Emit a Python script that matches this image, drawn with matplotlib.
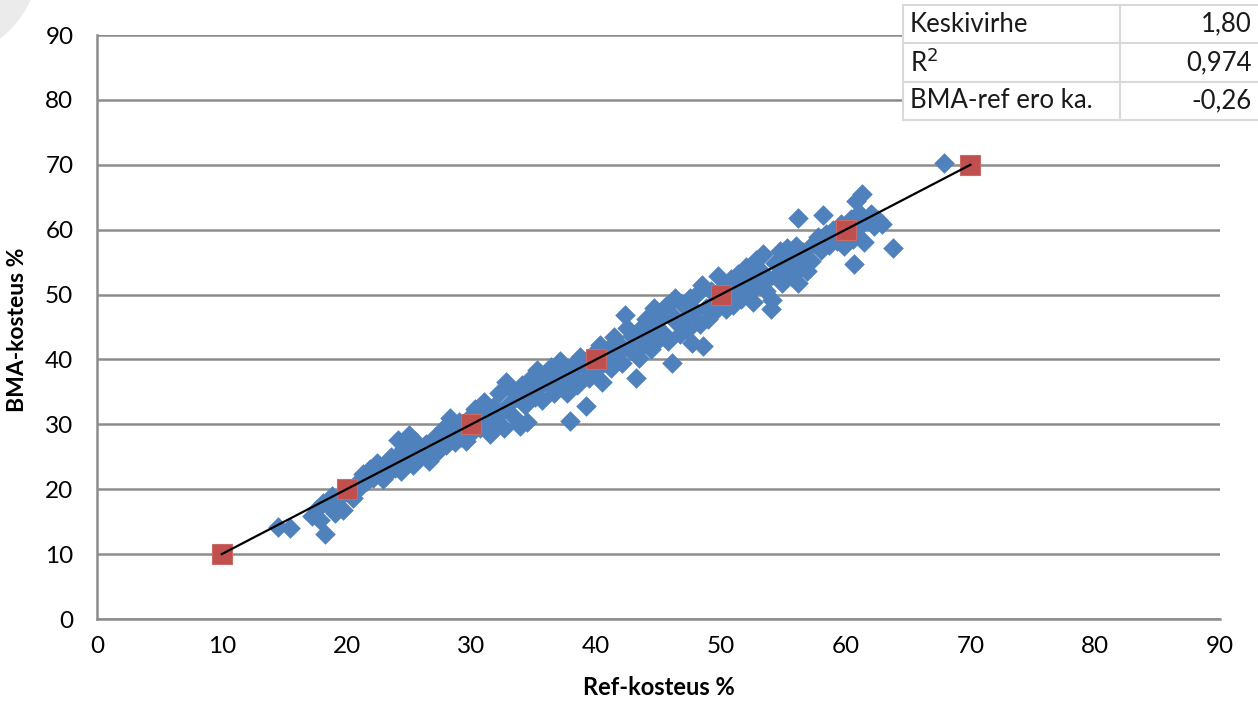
import matplotlib
matplotlib.use("Agg")
import matplotlib.pyplot as plt
from matplotlib.patches import Rectangle, Circle
from matplotlib.lines import Line2D

plt.rcParams['font.family'] = ['Lato', 'DejaVu Sans']

# measured points (Ref %, BMA %)
ref = [14.5, 15.5, 17.2, 17.6, 17.9, 18.3, 18.5, 18.8, 19.1, 19.4, 19.7, 19.9, 18.1, 19.3,
       20.2, 20.5, 20.8, 21.0, 21.3, 21.6, 21.9, 22.1, 22.4, 22.6, 22.9, 23.1, 23.4, 23.6,
       23.9, 24.1, 24.2, 24.4, 24.6, 24.8, 25.0, 25.1, 25.3, 25.5, 25.7, 25.9,
       26.2, 26.4, 26.6, 26.9, 27.1, 27.3, 27.6, 27.8, 28.0, 28.3, 28.5, 28.7, 29.0, 29.2,
       29.4, 29.6, 29.9, 30.1, 30.3,
       30.5, 30.7, 31.0, 31.2, 31.5, 31.7, 31.9, 32.2, 32.4, 32.6, 32.8, 33.0, 33.2, 33.4,
       33.7, 33.9, 34.1, 34.3, 34.5, 34.7, 34.9, 35.1,
       35.3, 35.5, 35.7, 35.9, 36.2, 36.4, 36.6, 36.8, 37.1, 37.3, 37.5, 37.7, 37.9, 38.1,
       38.3, 38.5, 38.7, 38.9, 39.2, 39.4, 39.6, 39.8, 40.0,
       40.3, 40.5, 40.7, 40.9, 41.2, 41.4, 41.6, 41.8, 42.1, 42.3, 42.5, 42.7, 42.9, 43.2,
       43.4, 43.6, 43.8, 44.0, 44.2, 44.4, 44.6, 44.8, 45.0,
       45.2, 45.4, 45.6, 45.8, 46.0, 46.1, 46.3, 46.5, 46.7, 46.9, 47.1, 47.3, 47.5, 47.7,
       47.9, 48.1, 48.3, 48.5, 48.6, 48.8, 49.0, 49.2, 49.4, 49.6, 49.8, 50.0,
       50.2, 50.4, 50.6, 50.8, 51.0, 51.2, 51.4, 51.6, 51.8, 52.0, 52.2, 52.4, 52.6, 52.8,
       53.0, 53.2, 53.4, 53.6, 53.8, 54.0, 54.1, 54.3, 54.5, 54.7, 54.9,
       55.1, 55.3, 55.6, 55.8, 56.0, 56.2, 56.2, 56.4, 56.6, 56.9, 57.2, 57.5, 57.8, 58.0,
       58.2, 58.4, 58.7, 59.0, 59.3, 59.6, 59.9,
       60.2, 60.4, 60.6, 60.7, 60.8, 61.0, 61.1, 61.3, 61.5, 61.7, 62.0, 62.3, 62.6, 62.9,
       63.8, 67.9]
bma = [14.2, 14.0, 15.8, 16.9, 15.2, 13.1, 17.6, 18.9, 16.4, 17.3, 16.8, 19.6, 17.9, 18.5,
       19.8, 18.6, 21.0, 20.2, 22.4, 21.2, 23.1, 21.7, 24.0, 22.3, 21.5, 23.8, 22.6, 24.9,
       23.2, 27.6, 25.4, 22.8, 26.3, 24.1, 28.3, 25.6, 23.7, 27.4, 24.8, 26.1,
       25.3, 27.0, 24.4, 26.6, 28.1, 25.9, 27.5, 29.4, 26.8, 31.0, 28.6, 27.3, 30.3, 28.1,
       29.7, 27.4, 31.2, 29.0, 32.4,
       30.6, 29.4, 33.5, 31.4, 28.5, 32.6, 30.1, 34.8, 31.9, 29.4, 36.6, 33.2, 35.4, 31.1,
       34.1, 29.8, 36.0, 33.0, 30.4, 35.2, 37.3, 34.2,
       38.4, 35.9, 33.8, 37.0, 36.0, 38.9, 34.9, 37.6, 39.7, 36.3, 38.2, 34.8, 30.5, 37.4,
       39.4, 36.0, 40.3, 38.3, 32.9, 37.1, 39.9, 41.0, 38.4,
       42.2, 36.6, 39.6, 41.4, 38.7, 43.5, 40.6, 42.4, 39.5, 46.8, 44.8, 41.5, 43.6, 37.1,
       40.2, 44.9, 42.4, 46.3, 43.4, 41.6, 47.9, 45.1, 43.2,
       46.6, 44.1, 48.3, 42.8, 47.0, 39.5, 49.5, 45.6, 43.9, 48.6, 46.2, 44.5, 49.4, 42.6,
       47.4, 50.1, 45.5, 51.4, 42.1, 48.0, 46.3, 50.6, 47.2, 49.0, 52.9, 48.6,
       51.2, 47.8, 49.8, 52.4, 48.4, 50.7, 53.1, 49.3, 51.8, 54.3, 50.1, 52.7, 48.9, 55.4,
       51.5, 53.6, 56.2, 50.6, 52.4, 47.7, 49.2, 54.8, 53.0, 56.7, 51.8,
       54.6, 57.2, 52.9, 55.8, 57.5, 61.8, 51.8, 54.2, 56.5, 53.7, 55.1, 57.9, 58.8, 56.9,
       62.3, 59.4, 57.7, 59.9, 58.2, 60.8, 57.5,
       59.2, 61.7, 58.6, 54.7, 64.4, 60.3, 62.6, 65.5, 58.1, 61.4, 62.4, 60.6, 61.5, 60.9,
       57.2, 70.2]

# reference line points
line_x = [10, 20, 30, 40, 50, 60, 70]
line_y = [10, 20, 30, 40, 50, 60, 70]

stat_names = ['Keskivirhe', 'R$^2$', 'BMA-ref ero ka.']
stat_values = ['1,80', '0,974', '-0,26']

W, H = 1258, 705
fig = plt.figure(figsize=(W / 100, H / 100), dpi=100)
ax = fig.add_axes([97 / W, 1 - 619 / H, (1220 - 97) / W, (619 - 35) / H])

blue = '#4f81bd'
red = '#c0504d'
grid_c = '#8c8c8c'

ax.scatter(ref, bma, marker='D', s=110, color=blue, linewidths=0, zorder=3)
ax.plot(line_x, line_y, 's', ms=14.5, color=red, mec='#c96a67', mew=0.8, zorder=4)
ax.plot(line_x, line_y, '-', color='black', lw=1.6, zorder=5)

ax.set_xlim(0, 90)
ax.set_ylim(0, 90)
ax.set_xticks(range(0, 91, 10))
ax.set_yticks(range(0, 91, 10))
ax.yaxis.grid(True, color=grid_c, lw=1.8)
ax.set_axisbelow(True)
for s in ['top', 'right']:
    ax.spines[s].set_visible(False)
for s in ['left', 'bottom']:
    ax.spines[s].set_color(grid_c)
    ax.spines[s].set_linewidth(1.8)
ax.tick_params(length=0, labelsize=17.5, pad=12, colors='black')
ax.tick_params(axis='y', pad=17)
ax.set_xlabel('Ref-kosteus %', fontsize=17, fontweight='bold', labelpad=14)
ax.set_ylabel('BMA-kosteus %', fontsize=16.5, fontweight='bold')
ax.yaxis.set_label_coords(-0.061, 0.495)

# faint grey arc in top-left corner
fig.patches.append(Circle((-60, H + 40), 99, transform=None, facecolor='#ebebeb',
                          edgecolor='none', zorder=0))

# stats table (pixel coordinates)
rows_y = [5, 43, 82, 120]
x0, xm, x1 = 903, 1120, 1262
tab_c = '#d9d9d9'
fig.patches.append(Rectangle((x0, H - rows_y[-1]), x1 - x0, rows_y[-1] - rows_y[0],
                             transform=None, facecolor='white', edgecolor='none', zorder=6))
for yy in rows_y:
    fig.lines.append(Line2D([x0, x1], [H - yy, H - yy], transform=None, color=tab_c, lw=1.5, zorder=7))
for xx in [x0, xm]:
    fig.lines.append(Line2D([xx, xx], [H - rows_y[0], H - rows_y[-1]], transform=None,
                            color=tab_c, lw=1.5, zorder=7))
for i, (nm, val) in enumerate(zip(stat_names, stat_values)):
    yc = (rows_y[i] + rows_y[i + 1]) / 2
    fig.text(910 / W, 1 - yc / H, nm, fontsize=18.5, color='#1a1a1a', ha='left', va='center', zorder=8)
    fig.text(1252 / W, 1 - yc / H, val, fontsize=18.5, color='#1a1a1a', ha='right', va='center', zorder=8)

fig.savefig('out.png', dpi=100)
